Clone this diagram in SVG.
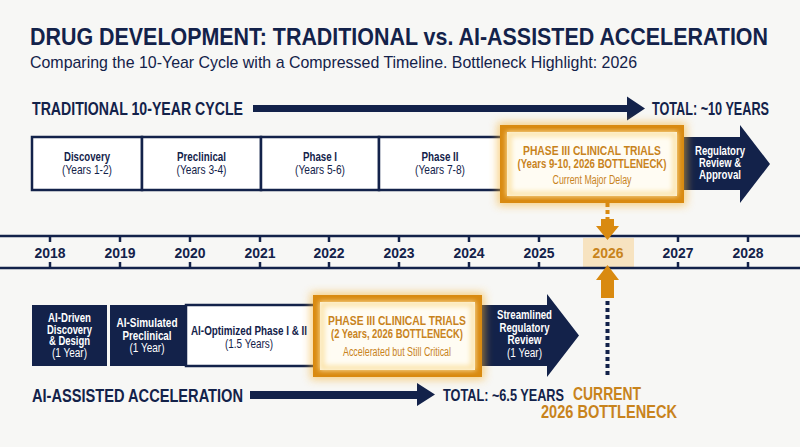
<svg xmlns="http://www.w3.org/2000/svg" width="800" height="447" viewBox="0 0 800 447">
<defs>
<style>
.t{font-family:'Liberation Sans Narrow','Liberation Sans',Arial,sans-serif;}
.b{font-weight:bold;}
.n{fill:#13224A;}
.o{fill:#C8831C;}
.w{fill:#FFFFFF;}
.m{text-anchor:middle;}
.box{fill:#FFFFFF;stroke:#13224A;stroke-width:2.5;}
.nbox{fill:#13224A;}
.ob{fill:#FFFCF3;stroke:#D98A10;stroke-width:7;}
.og{fill:none;stroke:#F4B235;stroke-width:12;opacity:0.6;}
.oi{fill:none;stroke:#FBE2A6;stroke-width:5;}
.tl{stroke:#13224A;stroke-width:2.5;}
.yr{font-size:15px;}
.s{font-size:12px;}
</style>
<filter id="glow" x="-20%" y="-30%" width="140%" height="160%"><feGaussianBlur stdDeviation="4"/></filter>
<filter id="soft" x="-10%" y="-10%" width="120%" height="120%"><feGaussianBlur stdDeviation="2.5"/></filter>
</defs>
<rect width="800" height="447" fill="#F7F7F5"/>

<g id="title">
<text class="t b n" x="30" y="45" font-size="24" textLength="738" lengthAdjust="spacingAndGlyphs">DRUG DEVELOPMENT: TRADITIONAL vs. AI-ASSISTED ACCELERATION</text>
<text class="t n" x="30" y="68" font-size="17" textLength="607" lengthAdjust="spacingAndGlyphs">Comparing the 10-Year Cycle with a Compressed Timeline. Bottleneck Highlight: 2026</text>
</g>

<g id="traditional-label">
<text class="t b n" x="32" y="115" font-size="18" textLength="211" lengthAdjust="spacingAndGlyphs">TRADITIONAL 10-YEAR CYCLE</text>
<polygon class="nbox" points="253,105 627,105 627,96.5 645,108.5 627,120.5 627,112 253,112"/>
<text class="t b n" x="652" y="115" font-size="18" textLength="117" lengthAdjust="spacingAndGlyphs">TOTAL: ~10 YEARS</text>
</g>

<g id="trad-discovery">
<rect class="box" x="32" y="137" width="110" height="53"/>
<text class="t b n m" x="87" y="161" font-size="13" textLength="46" lengthAdjust="spacingAndGlyphs">Discovery</text>
<text class="t n m" x="87" y="173.5" font-size="13" textLength="50" lengthAdjust="spacingAndGlyphs">(Years 1-2)</text>
</g>
<g id="trad-preclinical">
<rect class="box" x="142" y="137" width="119" height="53"/>
<text class="t b n m" x="201.5" y="161" font-size="13" textLength="49" lengthAdjust="spacingAndGlyphs">Preclinical</text>
<text class="t n m" x="201.5" y="173.5" font-size="13" textLength="50" lengthAdjust="spacingAndGlyphs">(Years 3-4)</text>
</g>
<g id="trad-phase1">
<rect class="box" x="261" y="137" width="118" height="53"/>
<text class="t b n m" x="320" y="161" font-size="13" textLength="34" lengthAdjust="spacingAndGlyphs">Phase I</text>
<text class="t n m" x="320" y="173.5" font-size="13" textLength="50" lengthAdjust="spacingAndGlyphs">(Years 5-6)</text>
</g>
<g id="trad-phase2">
<rect class="box" x="379" y="137" width="124" height="53"/>
<text class="t b n m" x="440" y="161" font-size="13" textLength="37" lengthAdjust="spacingAndGlyphs">Phase II</text>
<text class="t n m" x="440" y="173.5" font-size="13" textLength="50" lengthAdjust="spacingAndGlyphs">(Years 7-8)</text>
</g>
<g id="trad-regulatory">
<polygon class="nbox" points="680,137 740,137 740,125 770,164 740,203 740,190 680,190"/>
<text class="t b w m s" x="720" y="155" textLength="50" lengthAdjust="spacingAndGlyphs">Regulatory</text>
<text class="t b w m s" x="720" y="167" textLength="42" lengthAdjust="spacingAndGlyphs">Review &amp;</text>
<text class="t b w m s" x="720" y="179" textLength="42" lengthAdjust="spacingAndGlyphs">Approval</text>
</g>
<g id="trad-phase3">
<rect class="og" x="503.5" y="128.5" width="177" height="71" filter="url(#glow)"/>
<rect class="ob" x="503.5" y="128.5" width="177" height="71"/>
<rect class="oi" x="509" y="134" width="166" height="60" filter="url(#soft)"/>
<text class="t b o m" x="592" y="155" font-size="13.5" textLength="138" lengthAdjust="spacingAndGlyphs">PHASE III CLINICAL TRIALS</text>
<text class="t b o m" x="592" y="168" font-size="13.5" textLength="149" lengthAdjust="spacingAndGlyphs">(Years 9-10, 2026 BOTTLENECK)</text>
<text class="t o m" x="592" y="184" font-size="12" textLength="79" lengthAdjust="spacingAndGlyphs">Current Major Delay</text>
</g>

<g id="timeline">
<rect x="583" y="238" width="51" height="29" fill="#F7DFB6" opacity="0.85"/>
<line class="tl" x1="0" y1="236" x2="800" y2="236"/>
<line class="tl" x1="0" y1="268" x2="800" y2="268"/>
<g class="tl">
<line x1="50" y1="236" x2="50" y2="242"/><line x1="50" y1="262" x2="50" y2="268"/>
<line x1="120" y1="236" x2="120" y2="242"/><line x1="120" y1="262" x2="120" y2="268"/>
<line x1="190" y1="236" x2="190" y2="242"/><line x1="190" y1="262" x2="190" y2="268"/>
<line x1="260" y1="236" x2="260" y2="242"/><line x1="260" y1="262" x2="260" y2="268"/>
<line x1="329" y1="236" x2="329" y2="242"/><line x1="329" y1="262" x2="329" y2="268"/>
<line x1="399" y1="236" x2="399" y2="242"/><line x1="399" y1="262" x2="399" y2="268"/>
<line x1="469" y1="236" x2="469" y2="242"/><line x1="469" y1="262" x2="469" y2="268"/>
<line x1="539" y1="236" x2="539" y2="242"/><line x1="539" y1="262" x2="539" y2="268"/>
<line x1="678" y1="236" x2="678" y2="242"/><line x1="678" y1="262" x2="678" y2="268"/>
<line x1="748" y1="236" x2="748" y2="242"/><line x1="748" y1="262" x2="748" y2="268"/>
</g>
<text class="t b n m yr" x="50" y="258" textLength="31" lengthAdjust="spacingAndGlyphs">2018</text>
<text class="t b n m yr" x="120" y="258" textLength="31" lengthAdjust="spacingAndGlyphs">2019</text>
<text class="t b n m yr" x="190" y="258" textLength="31" lengthAdjust="spacingAndGlyphs">2020</text>
<text class="t b n m yr" x="260" y="258" textLength="31" lengthAdjust="spacingAndGlyphs">2021</text>
<text class="t b n m yr" x="329" y="258" textLength="31" lengthAdjust="spacingAndGlyphs">2022</text>
<text class="t b n m yr" x="399" y="258" textLength="31" lengthAdjust="spacingAndGlyphs">2023</text>
<text class="t b n m yr" x="469" y="258" textLength="31" lengthAdjust="spacingAndGlyphs">2024</text>
<text class="t b n m yr" x="539" y="258" textLength="31" lengthAdjust="spacingAndGlyphs">2025</text>
<text class="t b o m yr" x="608" y="258" textLength="31" lengthAdjust="spacingAndGlyphs">2026</text>
<text class="t b n m yr" x="678" y="258" textLength="31" lengthAdjust="spacingAndGlyphs">2027</text>
<text class="t b n m yr" x="748" y="258" textLength="31" lengthAdjust="spacingAndGlyphs">2028</text>
</g>

<g id="ai-discovery">
<rect class="nbox" x="32" y="305" width="75" height="61"/>
<text class="t b w m s" x="69.5" y="322" textLength="43" lengthAdjust="spacingAndGlyphs">AI-Driven</text>
<text class="t b w m s" x="69.5" y="333.5" textLength="45" lengthAdjust="spacingAndGlyphs">Discovery</text>
<text class="t b w m s" x="69.5" y="345" textLength="41" lengthAdjust="spacingAndGlyphs">&amp; Design</text>
<text class="t w m s" x="69.5" y="357" textLength="35" lengthAdjust="spacingAndGlyphs">(1 Year)</text>
</g>
<g id="ai-preclinical">
<rect class="nbox" x="110" y="305" width="76" height="61"/>
<text class="t b w m s" x="147" y="327" textLength="61" lengthAdjust="spacingAndGlyphs">AI-Simulated</text>
<text class="t b w m s" x="147" y="339.5" textLength="49" lengthAdjust="spacingAndGlyphs">Preclinical</text>
<text class="t w m s" x="147" y="352" textLength="35" lengthAdjust="spacingAndGlyphs">(1 Year)</text>
</g>
<g id="ai-phase12">
<rect class="box" x="186" y="305" width="132" height="61"/>
<text class="t b n m" x="249" y="335" font-size="13" textLength="116" lengthAdjust="spacingAndGlyphs">AI-Optimized Phase I &amp; II</text>
<text class="t n m" x="249" y="347.5" font-size="13" textLength="48" lengthAdjust="spacingAndGlyphs">(1.5 Years)</text>
</g>
<g id="ai-regulatory">
<polygon class="nbox" points="478,305 547,305 547,294 579,335.5 547,377 547,366 478,366"/>
<text class="t b w m s" x="524.5" y="319" textLength="55" lengthAdjust="spacingAndGlyphs">Streamlined</text>
<text class="t b w m s" x="524.5" y="331.5" textLength="50" lengthAdjust="spacingAndGlyphs">Regulatory</text>
<text class="t b w m s" x="524.5" y="344" textLength="34" lengthAdjust="spacingAndGlyphs">Review</text>
<text class="t w m s" x="524.5" y="356.5" textLength="35" lengthAdjust="spacingAndGlyphs">(1 Year)</text>
</g>
<g id="ai-phase3">
<rect class="og" x="316.5" y="298.5" width="162" height="75" filter="url(#glow)"/>
<rect class="ob" x="316.5" y="298.5" width="162" height="75"/>
<rect class="oi" x="322" y="304" width="151" height="64" filter="url(#soft)"/>
<text class="t b o m" x="397" y="325" font-size="13.5" textLength="138" lengthAdjust="spacingAndGlyphs">PHASE III CLINICAL TRIALS</text>
<text class="t b o m" x="397" y="338" font-size="13.5" textLength="132" lengthAdjust="spacingAndGlyphs">(2 Years, 2026 BOTTLENECK)</text>
<text class="t o m" x="397" y="355.5" font-size="12" textLength="108" lengthAdjust="spacingAndGlyphs">Accelerated but Still Critical</text>
</g>

<g id="ai-label">
<text class="t b n" x="32" y="402" font-size="18.5" textLength="211" lengthAdjust="spacingAndGlyphs">AI-ASSISTED ACCELERATION</text>
<polygon class="nbox" points="250,391 417,391 417,383 435,394.5 417,406 417,399 250,399"/>
<text class="t b n" x="443" y="401" font-size="16.5" textLength="121" lengthAdjust="spacingAndGlyphs">TOTAL: ~6.5 YEARS</text>
</g>

<g id="bottleneck-label">
<text class="t b o m" x="607" y="400" font-size="18" textLength="68" lengthAdjust="spacingAndGlyphs">CURRENT</text>
<text class="t b o m" x="609" y="418" font-size="18" textLength="136" lengthAdjust="spacingAndGlyphs">2026 BOTTLENECK</text>
</g>

<g id="connectors">
<line x1="607.5" y1="203" x2="607.5" y2="219" stroke="#D98A10" stroke-width="4" stroke-dasharray="4 3"/>
<polygon fill="#D98A10" points="601,219 614,219 614,226 619,226 607.5,240 596,226 601,226"/>
<polygon fill="#D98A10" points="607.5,265 619,280 614,280 614,298 601,298 601,280 596,280"/>
<line x1="607.5" y1="301" x2="607.5" y2="378" stroke="#13224A" stroke-width="4" stroke-dasharray="4 3"/>
</g>
</svg>
